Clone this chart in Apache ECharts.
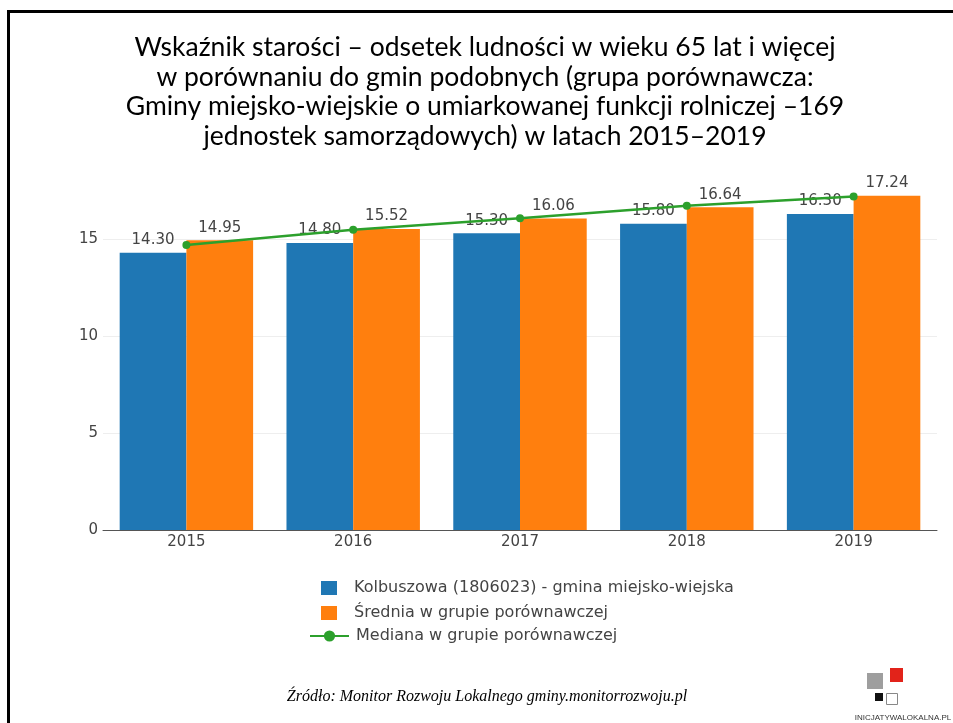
<!DOCTYPE html>
<html>
<head>
<meta charset="utf-8">
<script src="https://cdn.jsdelivr.net/npm/echarts@6/dist/echarts.min.js"></script>
<style>
  html, body { margin: 0; padding: 0; background: #fff; }
  #chart { width: 953px; height: 723px; }
</style>
</head>
<body>
<div id="chart"></div>
<script>
const years = ['2015', '2016', '2017', '2018', '2019'];
const gminaValues = [14.30, 14.80, 15.30, 15.80, 16.30];
const sredniaValues = [14.95, 15.52, 16.06, 16.64, 17.24];
const medianaValues = [14.7, 15.48, 16.08, 16.72, 17.2];

const gminaName = 'Kolbuszowa (1806023) - gmina miejsko-wiejska';
const sredniaName = 'Średnia w grupie porównawczej';
const medianaName = 'Mediana w grupie porównawczej';

const titleLines = [
  'Wskaźnik starości – odsetek ludności w wieku 65 lat i więcej',
  'w porównaniu do gmin podobnych (grupa porównawcza:',
  'Gminy miejsko-wiejskie o umiarkowanej funkcji rolniczej –169',
  'jednostek samorządowych) w latach 2015–2019'
];

const font = 'DejaVu Sans';
const textColor = '#444';

const chart = echarts.init(document.getElementById('chart'));

const barLabel = {
  show: true,
  position: 'top',
  distance: 5,
  fontFamily: font,
  fontSize: 15,
  color: textColor,
  formatter: p => p.value.toFixed(2)
};

const option = {
  animation: false,
  backgroundColor: '#fff',
  grid: {
    left: 103,
    right: 16,
    top: 181,
    bottom: 193
  },
  xAxis: {
    type: 'category',
    data: years,
    axisLine: { lineStyle: { color: '#555', width: 1 } },
    axisTick: { show: false },
    axisLabel: { fontFamily: font, fontSize: 15, color: textColor, margin: 5 }
  },
  yAxis: {
    type: 'value',
    min: 0,
    max: 18,
    interval: 5,
    axisLine: { show: false },
    axisTick: { show: false },
    axisLabel: {
      fontFamily: font, fontSize: 15, color: textColor, margin: 5,
      showMaxLabel: false
    },
    splitLine: { lineStyle: { color: '#eee', width: 1 }, showMaxLine: false, showMinLine: false }
  },
  legend: [
    {
      orient: 'vertical',
      left: 321,
      top: 580,
      padding: 0,
      itemWidth: 16,
      itemHeight: 14,
      itemGap: 9,
      icon: 'rect',
      data: [gminaName, sredniaName],
      textStyle: { fontFamily: font, fontSize: 16, lineHeight: 16, color: textColor, padding: [0, 0, 0, 12] }
    },
    {
      orient: 'vertical',
      left: 309,
      top: 628,
      padding: 0,
      itemWidth: 39,
      itemHeight: 14,
      data: [medianaName],
      textStyle: { fontFamily: font, fontSize: 16, lineHeight: 16, color: textColor, padding: [0, 0, 0, 2] }
    }
  ],
  series: [
    {
      name: gminaName,
      type: 'bar',
      data: gminaValues,
      barGap: '0%',
      barCategoryGap: '20%',
      itemStyle: { color: '#1f77b4' },
      label: barLabel,
      z: 2
    },
    {
      name: sredniaName,
      type: 'bar',
      data: sredniaValues,
      itemStyle: { color: '#ff7f0e' },
      label: barLabel,
      z: 2
    },
    {
      name: medianaName,
      type: 'line',
      data: medianaValues,
      symbol: 'circle',
      symbolSize: 8,
      lineStyle: { color: '#2ca02c', width: 2.5 },
      itemStyle: { color: '#2ca02c' },
      z: 5
    }
  ],
  graphic: [
    {
      type: 'rect',
      shape: { x: 8.5, y: 11.5, width: 1000, height: 800 },
      style: { fill: 'none', stroke: '#000', lineWidth: 3 },
      silent: true
    },
    {
      type: 'text',
      x: 485,
      y: 33,
      style: {
        text: titleLines.join('\n'),
        font: '26.5px Lato',
        lineHeight: 29.5,
        fill: '#000',
        textAlign: 'center',
        textVerticalAlign: 'top'
      }
    },
    {
      type: 'text',
      x: 487,
      y: 697,
      style: {
        text: 'Źródło: Monitor Rozwoju Lokalnego gminy.monitorrozwoju.pl',
        font: 'italic 16px "Liberation Serif"',
        fill: '#000',
        textAlign: 'center',
        textVerticalAlign: 'middle'
      }
    },
    // logo
    { type: 'rect', shape: { x: 867, y: 673, width: 16, height: 16 }, style: { fill: '#9e9e9e' } },
    { type: 'rect', shape: { x: 890, y: 668, width: 13, height: 14 }, style: { fill: '#e2231a' } },
    { type: 'rect', shape: { x: 875, y: 693, width: 8, height: 8 }, style: { fill: '#111' } },
    { type: 'rect', shape: { x: 886.5, y: 693.5, width: 11, height: 11 }, style: { fill: '#fff', stroke: '#888', lineWidth: 1 } },
    {
      type: 'text',
      x: 903,
      y: 714,
      style: {
        text: 'INICJATYWALOKALNA.PL',
        font: '8px "Liberation Sans"',
        fill: '#333',
        textAlign: 'center',
        textVerticalAlign: 'top'
      }
    }
  ]
};

chart.setOption(option);
</script>
</body>
</html>
